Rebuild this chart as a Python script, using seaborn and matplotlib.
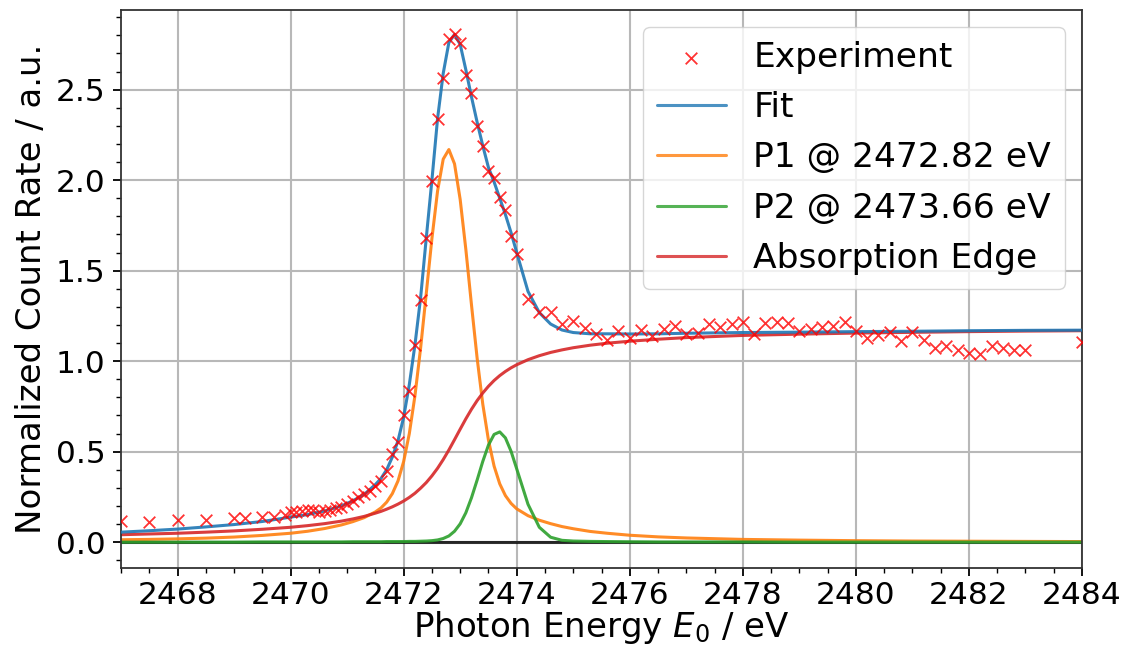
import numpy as np
import pandas as pd
import matplotlib
matplotlib.use("Agg")
import matplotlib.pyplot as plt
import seaborn as sns
from matplotlib.ticker import AutoMinorLocator

# ---------------- data ----------------
# experimental photon energies (eV)
exp_energy = ([2467.0, 2467.5, 2468.0, 2468.5, 2469.0, 2469.2, 2469.5, 2469.7, 2469.9]
              + [round(2470.0 + 0.1 * i, 1) for i in range(41)]
              + [round(2474.2 + 0.2 * i, 1) for i in range(45)]
              + [2484.0])
# normalized count rate of the experiment
exp_counts = [0.115, 0.112, 0.122, 0.122, 0.134, 0.134, 0.141, 0.141, 0.152,
              0.165, 0.168, 0.172, 0.176, 0.178, 0.166, 0.172, 0.180, 0.186, 0.195,
              0.208, 0.228, 0.252, 0.268, 0.284, 0.308, 0.340, 0.395, 0.485, 0.555,
              0.700, 0.833, 1.090, 1.337, 1.680, 1.996, 2.339, 2.564, 2.780, 2.810,
              2.760, 2.580, 2.480, 2.300, 2.190, 2.050, 2.010, 1.905, 1.835, 1.690,
              1.593,
              1.346, 1.273, 1.270, 1.203, 1.220, 1.185, 1.148, 1.117, 1.166, 1.126,
              1.172, 1.139, 1.177, 1.196, 1.148, 1.154, 1.203, 1.190, 1.203, 1.214,
              1.148, 1.209, 1.214, 1.209, 1.166, 1.177, 1.186, 1.196, 1.218, 1.166,
              1.130, 1.145, 1.160, 1.112, 1.163, 1.117, 1.075, 1.081, 1.062, 1.044,
              1.038, 1.086, 1.075, 1.062, 1.062,
              1.108]

# energies at which the fit curves are drawn (eV)
fit_energy = [2467.0, 2467.5, 2468.0, 2468.5, 2469.0, 2469.5, 2470.0, 2470.3, 2470.6, 2470.9,
              2471.1, 2471.3, 2471.5, 2471.6, 2471.7, 2471.8, 2471.9,
              2472.0, 2472.1, 2472.2, 2472.3, 2472.4, 2472.5, 2472.6, 2472.7, 2472.8, 2472.9,
              2473.0, 2473.1, 2473.2, 2473.3, 2473.4, 2473.5, 2473.6, 2473.7, 2473.8, 2473.9, 2474.0,
              2474.2, 2474.4, 2474.6, 2474.8, 2475.0, 2475.3, 2475.6, 2476.0, 2476.5, 2477.0, 2477.5,
              2478.0, 2479.0, 2480.0, 2481.0, 2482.0, 2483.0, 2484.0]
fit_total = [0.055, 0.063, 0.072, 0.084, 0.097, 0.114, 0.138, 0.152, 0.172, 0.200,
             0.228, 0.263, 0.318, 0.352, 0.400, 0.470, 0.560,
             0.690, 0.870, 1.090, 1.350, 1.680, 2.000, 2.340, 2.590, 2.760, 2.805,
             2.750, 2.610, 2.460, 2.320, 2.190, 2.070, 1.990, 1.900, 1.810, 1.710, 1.600,
             1.385, 1.268, 1.205, 1.172, 1.158, 1.151, 1.151, 1.150, 1.151, 1.154, 1.156,
             1.158, 1.160, 1.163, 1.165, 1.168, 1.170, 1.171]
peak1 = [0.013, 0.015, 0.018, 0.022, 0.028, 0.037, 0.049, 0.060, 0.075, 0.095,
         0.113, 0.135, 0.167, 0.189, 0.221, 0.268, 0.338,
         0.445, 0.599, 0.809, 1.072, 1.373, 1.677, 1.940, 2.116, 2.169, 2.090,
         1.893, 1.618, 1.311, 1.016, 0.762, 0.564, 0.420, 0.322, 0.257, 0.214, 0.184,
         0.146, 0.121, 0.102, 0.086, 0.074, 0.059, 0.049, 0.038, 0.029, 0.023, 0.019,
         0.015, 0.011, 0.008, 0.006, 0.005, 0.004, 0.003]
peak2 = [0.000, 0.000, 0.000, 0.000, 0.000, 0.001, 0.001, 0.001, 0.001, 0.001,
         0.002, 0.002, 0.002, 0.002, 0.003, 0.003, 0.003,
         0.003, 0.004, 0.004, 0.005, 0.006, 0.008, 0.012, 0.020, 0.034, 0.060,
         0.101, 0.162, 0.245, 0.343, 0.446, 0.536, 0.595, 0.609, 0.576, 0.502, 0.405,
         0.209, 0.082, 0.027, 0.010, 0.006, 0.004, 0.003, 0.002, 0.001, 0.001, 0.001,
         0.001, 0.000, 0.000, 0.000, 0.000, 0.000, 0.000]
edge = [0.041, 0.045, 0.049, 0.055, 0.062, 0.071, 0.082, 0.091, 0.102, 0.116,
        0.128, 0.142, 0.160, 0.170, 0.182, 0.195, 0.210,
        0.227, 0.247, 0.270, 0.298, 0.329, 0.366, 0.408, 0.456, 0.509, 0.566,
        0.624, 0.681, 0.734, 0.782, 0.824, 0.861, 0.893, 0.920, 0.943, 0.963, 0.980,
        1.008, 1.030, 1.048, 1.062, 1.074, 1.088, 1.099, 1.110, 1.121, 1.130, 1.136,
        1.142, 1.149, 1.155, 1.159, 1.163, 1.166, 1.168]

labels = ["Experiment", "Fit", "P1 @ 2472.82 eV", "P2 @ 2473.66 eV", "Absorption Edge"]
x_ticks = [2468, 2470, 2472, 2474, 2476, 2478, 2480, 2482, 2484]
y_ticks = [0.0, 0.5, 1.0, 1.5, 2.0, 2.5]

# ---------------- figure ----------------
sns.set_style("white")
plt.rcParams["font.family"] = ["DejaVu Sans"]
plt.rcParams["text.color"] = "black"
plt.rcParams["axes.labelcolor"] = "black"
plt.rcParams["xtick.color"] = "black"
plt.rcParams["ytick.color"] = "black"

fig = plt.figure(figsize=(11.25, 6.55), dpi=100)
ax = fig.add_axes([121 / 1125, 1 - 568 / 655, (1082 - 121) / 1125, (568 - 10) / 655])

exp_df = pd.DataFrame({"E": exp_energy, "I": exp_counts})
fit_df = pd.DataFrame({"E": fit_energy, "Fit": fit_total, "P1": peak1,
                       "P2": peak2, "Edge": edge})

pal = sns.color_palette("tab10")
lw = 2.2

ax.axhline(0, color="black", lw=2.2, alpha=0.8, zorder=1.5)
sns.scatterplot(data=exp_df, x="E", y="I", marker="x", color="red", s=70,
                linewidth=1.3, alpha=0.8, label=labels[0], ax=ax, zorder=4)
sns.lineplot(data=fit_df, x="E", y="Fit", color=pal[0], lw=lw, alpha=0.9,
             label=labels[1], ax=ax, sort=False, zorder=3)
sns.lineplot(data=fit_df, x="E", y="P1", color=pal[1], lw=lw, alpha=0.9,
             label=labels[2], ax=ax, sort=False, zorder=2)
sns.lineplot(data=fit_df, x="E", y="P2", color=pal[2], lw=lw, alpha=0.9,
             label=labels[3], ax=ax, sort=False, zorder=2)
sns.lineplot(data=fit_df, x="E", y="Edge", color=pal[3], lw=lw, alpha=0.9,
             label=labels[4], ax=ax, sort=False, zorder=2)

ax.set_xlim(2467, 2484)
ax.set_ylim(-0.143, 2.94)
ax.set_xticks(x_ticks)
ax.set_yticks(y_ticks)
ax.xaxis.set_minor_locator(AutoMinorLocator())
ax.yaxis.set_minor_locator(AutoMinorLocator())
ax.grid(True, which="major", color="#b8b8b8", lw=1.5)
ax.set_axisbelow(True)

for s in ax.spines.values():
    s.set_visible(True)
    s.set_color("#333333")
    s.set_linewidth(1.3)

ax.tick_params(axis="both", which="major", labelsize=22.5, length=6, width=1.3,
               direction="out", bottom=True, left=True, top=False, right=False, pad=5)
ax.tick_params(axis="x", which="major", pad=3)
ax.tick_params(axis="both", which="minor", length=3.5, width=1.0,
               bottom=True, left=True, top=False, right=False)

ax.set_xlabel("Photon Energy $E_0$ / eV", fontsize=24.5, labelpad=0)
ax.set_ylabel("Normalized Count Rate / a.u.", fontsize=24.5, labelpad=6)

leg = ax.legend(loc="upper right", fontsize=24.8, framealpha=0.8,
                borderaxespad=0.5, handlelength=2.0, labelspacing=0.5)
for h in leg.legend_handles:
    try:
        h.set_alpha(0.8)
    except Exception:
        pass

fig.savefig("out.png", dpi=100)
